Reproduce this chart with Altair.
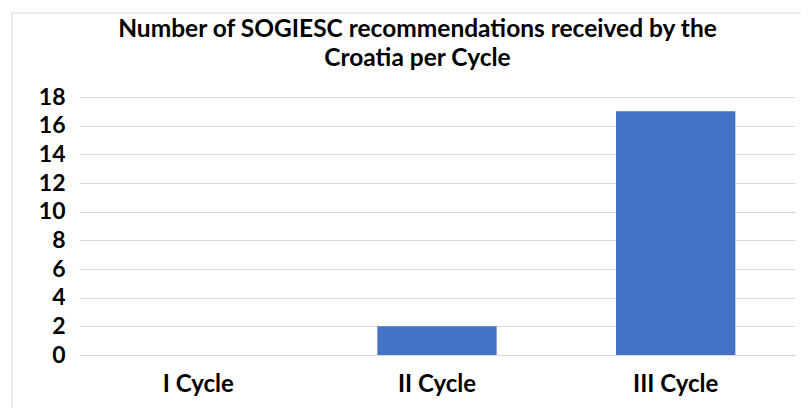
import altair as alt
import pandas as pd

categories = ["I Cycle", "II Cycle", "III Cycle"]
values = [0, 2, 17]
y_ticks = [0, 2, 4, 6, 8, 10, 12, 14, 16, 18]
title_lines = ["Number of SOGIESC recommendations received by the", "Croatia per Cycle"]

df = pd.DataFrame({"cycle": categories, "count": values})

FONT = "Lato"
PLOT_W, PLOT_H = 716, 258

base = alt.Chart(df)

bars = base.mark_bar(color="#4472C4").encode(
    x=alt.X(
        "cycle:N",
        sort=categories,
        title=None,
        scale=alt.Scale(paddingInner=0.5, paddingOuter=0.25),
        axis=alt.Axis(
            labelAngle=0,
            labelFont=FONT,
            labelFontSize=24,
            labelFontWeight="bold",
            labelColor="#000000",
            labelPadding=17,
            ticks=False,
            domain=False,
            grid=False,
        ),
    ),
    y=alt.Y(
        "count:Q",
        title=None,
        scale=alt.Scale(domain=[0, 18], nice=False),
        axis=alt.Axis(
            values=y_ticks,
            labelFont=FONT,
            labelFontSize=23,
            labelFontWeight="bold",
            labelColor="#000000",
            labelPadding=14,
            ticks=False,
            domain=False,
            grid=True,
            gridColor="#D9D9D9",
            gridWidth=1.2,
        ),
    ),
)

one = pd.DataFrame({"a": [0]})

border = alt.Chart(one).mark_rect(
    fill="transparent", stroke="#D9D9D9", strokeWidth=1.2
).encode(
    x=alt.value(-67), x2=alt.value(760), y=alt.value(-84), y2=alt.value(400)
)

t1 = alt.Chart(one).mark_text(
    font=FONT, fontSize=24.5, fontWeight="bold", color="#000000",
    align="center", baseline="alphabetic"
).encode(x=alt.value(338.5), y=alt.value(-60), text=alt.value(title_lines[0]))

t2 = alt.Chart(one).mark_text(
    font=FONT, fontSize=24.5, fontWeight="bold", color="#000000",
    align="center", baseline="alphabetic"
).encode(x=alt.value(338.5), y=alt.value(-31), text=alt.value(title_lines[1]))

chart = alt.layer(border, bars, t1, t2).properties(
    width=PLOT_W,
    height=PLOT_H,
    autosize=alt.AutoSizeParams(type="none"),
    padding={"left": 71, "top": 89, "right": 6, "bottom": 53},
    background="white",
).configure_view(stroke=None)

chart.save("out.html", embed_options={"renderer": "svg", "actions": False})
